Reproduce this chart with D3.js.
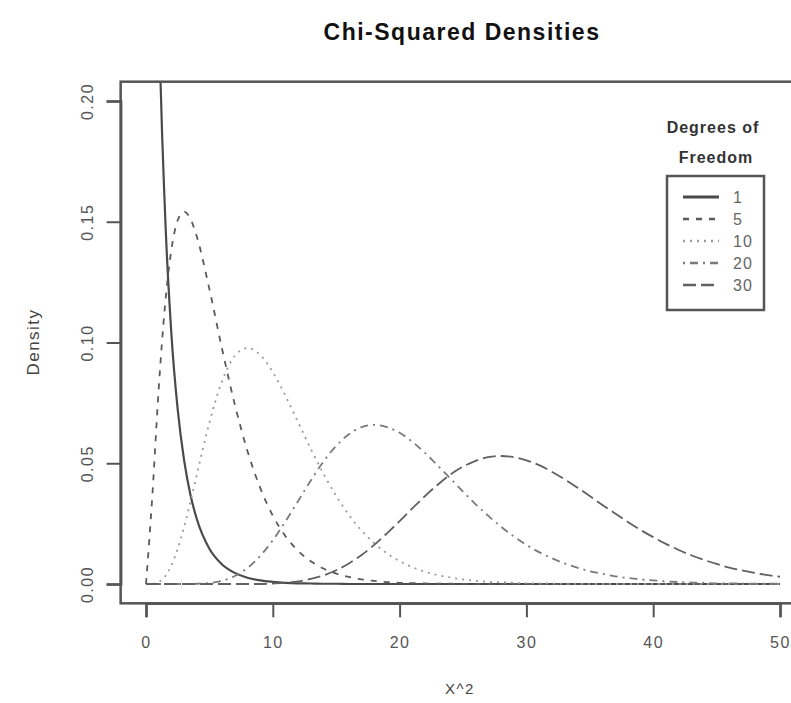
<!DOCTYPE html>
<html>
<head>
<meta charset="utf-8">
<script src="https://cdn.jsdelivr.net/npm/d3@7"></script>
<style>
body{margin:0;background:#fff;}
text{font-family:"Liberation Sans",Arial,sans-serif;}
</style>
</head>
<body>
<svg id="chart" width="791" height="703"></svg>
<script>
// x grid the densities were read at
var xs = [0,0.5,1,1.5,2,2.5,3,3.5,4,5,6,7,8,9,10,11,12,13,14,15,16,17,18,19,20,
          21,22,23,24,25,26,27,28,29,30,31,32,33,34,35,36,37,38,39,40,
          41,42,43,44,45,46,47,48,49,50];

var dens1 = [null,0.4394,0.2420,0.1539,0.1038,0.0723,0.0514,0.0371,0.0270,0.0146,0.0081,0.0046,0.0026,0.0015,0.0009,
             0.0005,0.0003,0.0002,0.0001,0.0001,0,0,0,0,0,0,0,0,0,0,0,0,0,0,0,0,0,0,0,0,0,0,0,0,0,
             0,0,0,0,0,0,0,0,0,0];
var dens5 = [0,0.0366,0.0807,0.1154,0.1384,0.1506,0.1542,0.1513,0.1440,0.1221,0.0973,0.0744,0.0551,0.0399,0.0283,
             0.0198,0.0137,0.0094,0.0064,0.0043,0.0029,0.0019,0.0013,0.0008,0.0005,0.0004,0.0002,0.0001,0.0001,0,0,0,0,0,0,0,0,0,0,0,0,0,0,0,0,
             0,0,0,0,0,0,0,0,0,0];
var dens10 = [0,0.0001,0.0008,0.0031,0.0077,0.0146,0.0235,0.0340,0.0451,0.0668,0.0840,0.0944,0.0977,0.0949,0.0877,
              0.0779,0.0669,0.0559,0.0456,0.0365,0.0286,0.0221,0.0169,0.0127,0.0095,0.0070,0.0051,0.0037,0.0027,0.0019,
              0.0013,0.0009,0.0007,0.0005,0.0003,0.0002,0.0002,0.0001,0.0001,0,0,0,0,0,0,
              0,0,0,0,0,0,0,0,0,0];
var dens20 = [0,0,0,0,0,0,0,0,0.0001,0.0004,0.0013,0.0033,0.0066,0.0116,0.0181,
              0.0259,0.0344,0.0429,0.0507,0.0572,0.0620,0.0650,0.0659,0.0650,0.0626,0.0589,0.0543,0.0491,0.0437,0.0383,
              0.0330,0.0282,0.0237,0.0197,0.0162,0.0132,0.0107,0.0085,0.0068,0.0053,0.0042,0.0032,0.0025,0.0019,0.0015,
              0.0011,0.0008,0.0006,0.0005,0.0003,0.0003,0.0002,0.0001,0.0001,0.0001];
var dens30 = [0,0,0,0,0,0,0,0,0,0,0,0,0,0,0.0002,
              0.0005,0.0011,0.0021,0.0036,0.0057,0.0085,0.0120,0.0162,0.0210,0.0260,0.0313,0.0364,0.0411,0.0453,0.0486,
              0.0510,0.0525,0.0530,0.0525,0.0512,0.0492,0.0465,0.0434,0.0400,0.0364,0.0327,0.0292,0.0257,0.0224,0.0194,
              0.0166,0.0141,0.0119,0.0100,0.0083,0.0068,0.0056,0.0046,0.0037,0.0030];

var dfLabels = ["1","5","10","20","30"];
var xTicks = [0,10,20,30,40,50];
var yTicks = [0,0.05,0.10,0.15,0.20];

var seriesList = [dens1,dens5,dens10,dens20,dens30];
var dashes = ["none","6,7","2,5","2,5,8,5","13,5"];
var colors = ["#4a4a4a","#5a5a5a","#9a9a9a","#7a7a7a","#606060"];
var widths = [2.2,1.8,1.8,1.8,1.8];

var axis_color = "#555";

var x = d3.scaleLinear().domain([0,50]).range([146,780]);
var y = d3.scaleLinear().domain([0,0.2]).range([584,101]);

var left = x(-2), right = x(52), top_ = y(0.208), bottom = y(-0.008);

var svg = d3.select("#chart");

svg.append("clipPath").attr("id","plotclip")
    .append("rect")
    .attr("x",left).attr("y",top_)
    .attr("width",right-left).attr("height",bottom-top_);

//Curves
var line = d3.line()
    .defined(function(d){return d[1] !== null;})
    .x(function(d){return x(d[0]);})
    .y(function(d){return y(d[1]);})
    .curve(d3.curveMonotoneX);

var curves = svg.append("g").attr("clip-path","url(#plotclip)");
seriesList.forEach(function(s,i){
    var pts = xs.map(function(v,j){return [v,s[j]];});
    curves.append("path")
        .attr("d",line(pts))
        .attr("fill","none")
        .attr("stroke",colors[i])
        .attr("stroke-width",widths[i])
        .attr("stroke-dasharray",dashes[i]);
});

//Box
svg.append("rect")
    .attr("x",left).attr("y",top_)
    .attr("width",right-left).attr("height",bottom-top_)
    .attr("fill","none")
    .style("stroke",axis_color)
    .style("stroke-width","2.5px");

//Axis
var xAxis = svg.append("g")
    .attr("transform","translate(0,"+bottom+")")
    .call(d3.axisBottom(x).tickValues(xTicks).tickSize(14).tickPadding(19).tickFormat(d3.format("d")));
var yAxis = svg.append("g")
    .attr("transform","translate("+left+",0)")
    .call(d3.axisLeft(y).tickValues(yTicks).tickSize(14).tickFormat(d3.format(".2f")));

[xAxis,yAxis].forEach(function(a){
    a.select(".domain").style("stroke",axis_color).style("stroke-width","2.5px");
    a.selectAll(".tick line").style("stroke",axis_color).style("stroke-width","2px");
    a.selectAll(".tick text")
        .attr("fill","#555")
        .attr("font-size",16)
        .style("letter-spacing","1.5px")
        .attr("font-family","Liberation Sans, Arial, sans-serif");
});

yAxis.selectAll(".tick text")
    .attr("x",null).attr("dy",null)
    .attr("text-anchor","middle")
    .attr("transform","translate(-28,0) rotate(-90)")
    .attr("y",0);

// Text
svg.append("text")
    .text("Chi-Squared Densities")
    .attr("x",462).attr("y",40)
    .attr("text-anchor","middle")
    .attr("font-size",23)
    .attr("font-weight","bold")
    .style("letter-spacing","1.5px")
    .attr("fill","#111");

svg.append("text")
    .text("X^2")
    .attr("x",460).attr("y",694)
    .attr("text-anchor","middle")
    .attr("font-size",15)
    .style("letter-spacing","1.5px")
    .attr("fill","#444");

svg.append("text")
    .text("Density")
    .attr("transform","translate(39,342) rotate(-90)")
    .attr("text-anchor","middle")
    .attr("font-size",17)
    .style("letter-spacing","1.5px")
    .attr("fill","#444");

//Legend
var legend = svg.append("g");
legend.append("text")
    .text("Degrees of")
    .attr("x",713).attr("y",133)
    .attr("text-anchor","middle")
    .attr("font-size",16)
    .attr("font-weight","bold")
    .style("letter-spacing","1px")
    .attr("fill","#333");
legend.append("text")
    .text("Freedom")
    .attr("x",716).attr("y",163)
    .attr("text-anchor","middle")
    .attr("font-size",16)
    .attr("font-weight","bold")
    .style("letter-spacing","1px")
    .attr("fill","#333");
legend.append("rect")
    .attr("x",667).attr("y",176)
    .attr("width",97).attr("height",134)
    .attr("fill","#fff")
    .style("stroke",axis_color)
    .style("stroke-width","2.5px");

var ly = d3.scalePoint().domain(dfLabels).range([197,285]);
dfLabels.forEach(function(lab,i){
    legend.append("line")
        .attr("x1",683).attr("x2",719)
        .attr("y1",ly(lab)).attr("y2",ly(lab))
        .style("stroke",colors[i])
        .style("stroke-width",(i==0?3:2.5)+"px")
        .attr("stroke-dasharray",dashes[i]);
    legend.append("text")
        .text(lab)
        .attr("x",733).attr("y",ly(lab)+6)
        .attr("font-size",16)
        .style("letter-spacing","1px")
        .attr("fill","#666");
});
</script>
</body>
</html>
